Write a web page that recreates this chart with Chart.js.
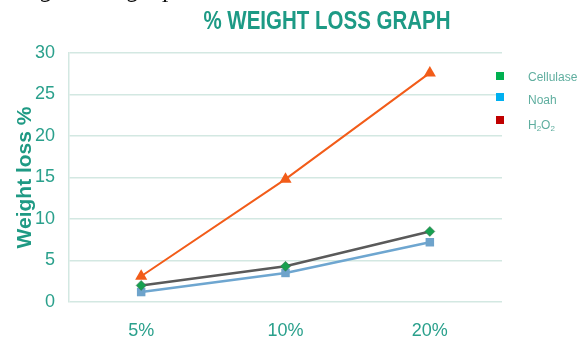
<!DOCTYPE html>
<html>
<head>
<meta charset="utf-8">
<script src="https://cdn.jsdelivr.net/npm/chart.js@4/dist/chart.umd.min.js"></script>
<style>
html,body{margin:0;padding:0;background:#fff;}
#wrap{width:577px;height:339px;}
</style>
</head>
<body>
<div id="wrap"><canvas id="myChart" width="577" height="339"></canvas></div>
<script>
const categorias = ['5%', '10%', '20%'];
const nombres = ['Cellulase', 'Noah', 'H2O2'];
const celulasa = [2.0, 4.3, 8.5];
const noah = [1.2, 3.5, 7.2];
const peroxido = [3.1, 14.8, 27.6];
const coloresLeyenda = ['#00b050', '#00b0f0', '#c00000'];

const fuente = '"Liberation Sans", Arial, sans-serif';
const verde = '#2aa08c';

// titulo, texto de arriba y leyenda dibujados en el canvas
const extras = {
    id: 'extras',
    afterDraw(chart){
        const ctx = chart.ctx;
        ctx.save();
        ctx.fillStyle = '#111';
        ctx.font = 'italic 26px "Liberation Serif", serif';
        ctx.textBaseline = 'alphabetic';
        ctx.fillText('Weight loss graph', 3, -3);

        // titulo angosto
        ctx.save();
        ctx.fillStyle = '#1d9a85';
        ctx.font = 'bold 25px ' + fuente;
        ctx.textAlign = 'center';
        ctx.textBaseline = 'middle';
        ctx.translate(327, 22);
        ctx.scale(0.82, 1);
        ctx.fillText('% WEIGHT LOSS GRAPH', 0, 0);
        ctx.restore();

        ctx.textAlign = 'left';
        ctx.textBaseline = 'middle';
        const ys = [76, 97, 120];
        for(let i=0;i<nombres.length;i++){
            ctx.fillStyle = coloresLeyenda[i];
            ctx.fillRect(496, ys[i]-4, 8, 8);
            ctx.fillStyle = '#5fae9f';
            ctx.font = '12px ' + fuente;
            let yt = ys[i] + 2 + i*2;
            if(nombres[i]=='H2O2'){
                let x = 528;
                ctx.fillText('H', x, yt); x += ctx.measureText('H').width;
                ctx.font = '8px ' + fuente;
                ctx.fillText('2', x, yt+3); x += ctx.measureText('2').width;
                ctx.font = '12px ' + fuente;
                ctx.fillText('O', x, yt); x += ctx.measureText('O').width;
                ctx.font = '8px ' + fuente;
                ctx.fillText('2', x, yt+3);
            }else{
                ctx.fillText(nombres[i], 528, yt);
            }
        }
        ctx.restore();
    }
};

const ctx = document.getElementById('myChart').getContext('2d');
const myChart = new Chart(ctx, {
    type: 'line',
    data: {
        labels: categorias,
        datasets: [{
            label: nombres[2],
            data: peroxido,
            borderColor: '#f25c19',
            backgroundColor: '#f25c19',
            borderWidth: 2,
            pointStyle: 'triangle',
            pointRadius: 7,
            pointBorderWidth: 0,
            order: 1
        },{
            label: nombres[0],
            data: celulasa,
            borderColor: '#5a5a5a',
            backgroundColor: '#17a050',
            pointBorderColor: '#3f6b50',
            borderWidth: 2.5,
            pointStyle: 'rectRot',
            pointRadius: 5,
            pointBorderWidth: 0.5,
            order: 2
        },{
            label: nombres[1],
            data: noah,
            borderColor: '#6ea6d0',
            backgroundColor: '#6ea3cb',
            borderWidth: 2.5,
            pointStyle: 'rect',
            pointRadius: 6,
            pointBorderWidth: 0,
            order: 3
        }]
    },
    options: {
        responsive: false,
        animation: false,
        layout: {
            padding: {top: 53, right: 75, bottom: 0, left: 0}
        },
        scales: {
            x: {
                offset: true,
                grid: {display: false, drawTicks: false},
                border: {display: false},
                ticks: {color: verde, font: {family: fuente, size: 18}, padding: 18},
                afterFit(scale){ scale.height = 37; }
            },
            y: {
                min: 0,
                max: 30,
                ticks: {stepSize: 5, color: verde, font: {family: fuente, size: 18}, padding: 14},
                grid: {color: '#d3e8e2', lineWidth: 1.5, drawTicks: false},
                border: {color: '#d3e8e2', width: 1.5},
                title: {
                    display: true,
                    text: 'Weight loss %',
                    color: '#1f9a84',
                    font: {family: fuente, size: 21, weight: 'bold'},
                    padding: {top: 13, bottom: 0}
                },
                afterFit(scale){ scale.width = 69; }
            }
        },
        plugins: {
            legend: {display: false},
            title: {display: false},
            tooltip: {enabled: false}
        }
    },
    plugins: [extras]
});
</script>
</body>
</html>
